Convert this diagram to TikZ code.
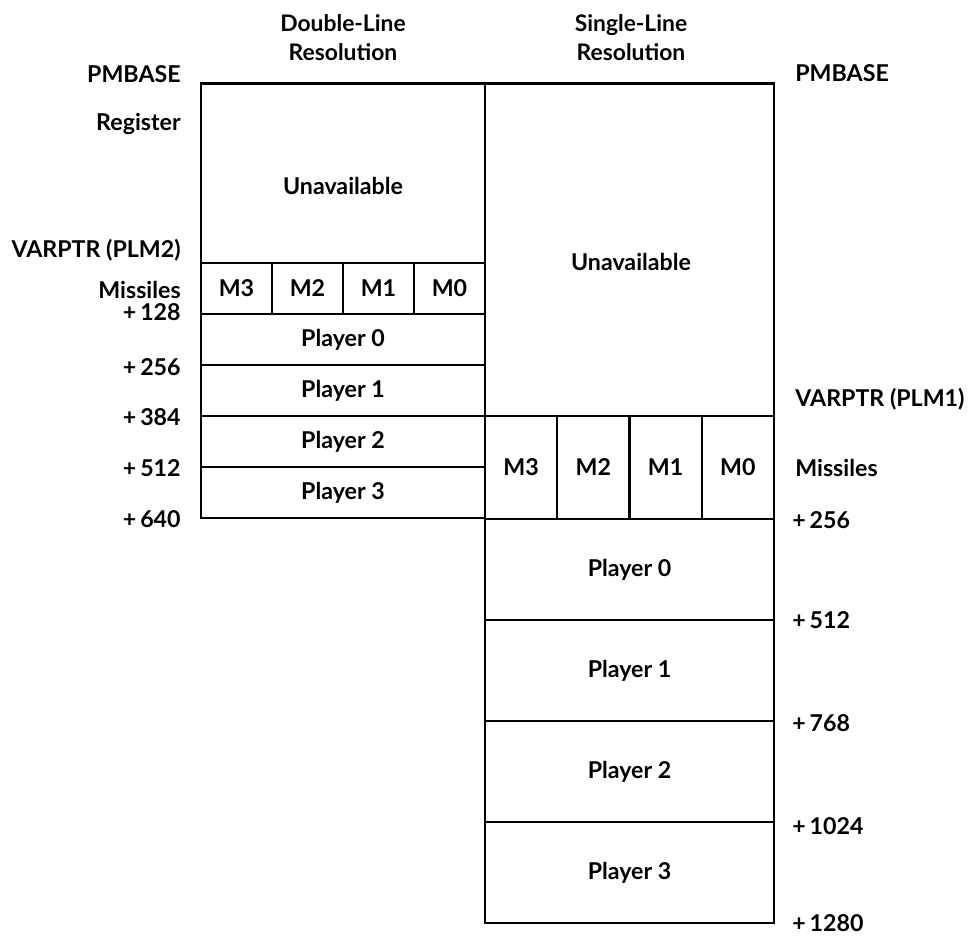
\documentclass[tikz,border=0pt]{standalone}
\usepackage{fontspec}
\setmainfont{Lato}
\usetikzlibrary{positioning}

\begin{document}
\begin{tikzpicture}[
  font=\fontsize{13.2}{15}\selectfont\bfseries,
  lc/.style={rectangle,draw,line width=1.3pt,inner sep=0pt,minimum width=5.68cm,minimum height=1.02cm},
  rc/.style={rectangle,draw,line width=1.3pt,inner sep=0pt,minimum width=5.78cm,minimum height=2.02cm},
  lm/.style={lc,minimum width=1.42cm},
  rm/.style={rc,minimum width=1.445cm,minimum height=2.06cm},
  ll/.style={anchor=east,inner sep=0pt},
  rl/.style={anchor=west,inner sep=0pt},
  hd/.style={align=center,font=\fontsize{13}{16.5}\selectfont\bfseries}
]
\useasboundingbox (0,0) rectangle (19.58,-18.72);
% headings
\node[hd] (hdbl) at (6.86,-0.75) {Double-Line\\Resolution};
\node[hd] (hsgl) at (12.62,-0.75) {Single-Line\\Resolution};
% double-line column
\node[lc,minimum height=3.59cm] (lun) at (6.86,-3.465) {};
\node (lunt) at (6.86,-3.72) {Unavailable};
\foreach \m [count=\k from 0] in {3,2,1,0}
  \node[lm] (lm\m) at ({4.73+1.42*\k},-5.77) {M\m};
\foreach \i in {0,...,3}
  \node[lc] (lp\i) at (6.86,{-6.79-1.02*\i}) {Player \i};
% single-line column
\node[rc,minimum height=6.65cm] (run) at (12.59,-4.995) {};
\node (runt) at (12.62,-5.24) {Unavailable};
\foreach \m [count=\k from 0] in {3,2,1,0}
  \node[rm] (rm\m) at ({10.4225+1.445*\k},-9.35) {M\m};
\foreach \i in {0,...,3}
  \node[rc] (rp\i) at (12.59,{-11.39-2.02*\i}) {Player \i};
% left labels
\node[ll] (lpmb) at (3.62,-1.48) {PMBASE};
\node[ll] (lreg) at (3.62,-2.48) {Register};
\node[ll] (lvar) at (3.62,-5.00) {VARPTR (PLM2)};
\node[ll] (lmis) at (3.62,-5.80) {Missiles};
\node[ll] (l128) at (3.62,-6.24) {+\,128};
\node[ll] (l256) at (3.62,-7.34) {+\,256};
\node[ll] (l384) at (3.62,-8.34) {+\,384};
\node[ll] (l512) at (3.62,-9.36) {+\,512};
\node[ll] (l640) at (3.62,-10.38) {+\,640};
% right labels
\node[rl] (rpmb) at (15.9,-1.46) {PMBASE};
\node[rl] (rvar) at (15.9,-7.98) {VARPTR (PLM1)};
\node[rl] (rmis) at (15.9,-9.36) {Missiles};
\node[rl] (r256) at (15.84,-10.40) {+\,256};
\node[rl] (r512) at (15.84,-12.40) {+\,512};
\node[rl] (r768) at (15.84,-14.46) {+\,768};
\node[rl] (r1024) at (15.84,-16.52) {+\,1024};
\node[rl] (r1280) at (15.84,-18.46) {+\,1280};
\end{tikzpicture}
\end{document}
